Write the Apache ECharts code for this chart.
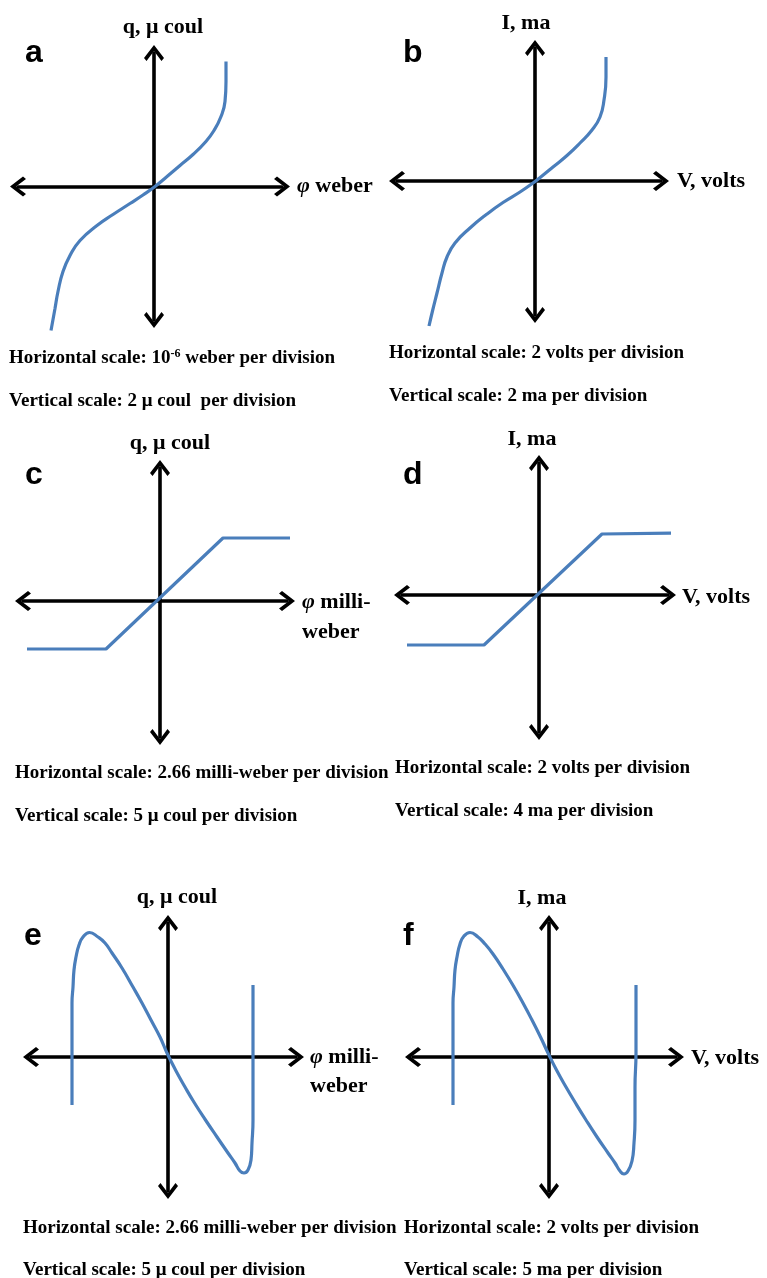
<!DOCTYPE html>
<html>
<head>
<meta charset="utf-8">
<script src="https://cdn.jsdelivr.net/npm/echarts@6/dist/echarts.min.js"></script>
<style>
html, body { margin: 0; padding: 0; background: #fff; }
#main { width: 767px; height: 1278px; }
</style>
</head>
<body>
<div id="main"></div>
<script>
// curve points, 1 unit = 10 px, origin at the axis crossing
var curveA = [[-10.3,-14.4],[-9.9,-12.2],[-9.6,-10.5],[-9.1,-8.5],[-8.4,-6.9],[-7.4,-5.4],[-5.7,-3.9],[-4.1,-2.8],[-2.4,-1.7],[-1.1,-0.85],[0.1,0],[1.3,1.0],[2.6,2.1],[3.9,3.2],[5.1,4.4],[6.0,5.6],[6.7,7.0],[7.1,8.5],[7.2,10.5],[7.2,12.5]];
var curveB = [[-10.6,-14.5],[-10.25,-13.0],[-9.8,-11.2],[-9.3,-9.2],[-8.8,-7.6],[-8.0,-6.2],[-6.5,-4.7],[-4.8,-3.3],[-3.2,-2.15],[-1.5,-1.1],[-0.2,-0.2],[0.7,0.5],[1.8,1.4],[3.2,2.55],[4.5,3.8],[5.7,5.1],[6.5,6.4],[6.9,8.1],[7.1,10.4],[7.1,12.4]];
var curveC = [[-13.3,-4.8],[-5.4,-4.8],[6.3,6.3],[13.4,6.3]];
var curveD = [[-13.2,-5.0],[-5.5,-5.0],[6.3,6.1],[13.4,6.2]];
var curveE = [[-9.6,-4.8],[-9.6,-3.0],[-9.6,-1.3],[-9.6,0.4],[-9.6,2.0],[-9.6,3.7],[-9.6,5.4],[-9.5,7.0],[-9.4,8.7],[-9.2,10.0],[-8.9,11.2],[-8.5,12.0],[-7.85,12.45],[-7.0,12.0],[-6.3,11.4],[-5.6,10.4],[-4.6,8.9],[-3.5,7.0],[-2.6,5.4],[-1.7,3.7],[-0.8,2.0],[-0.1,0.4],[0.75,-1.3],[1.7,-3.0],[2.65,-4.6],[3.75,-6.3],[4.9,-8.0],[6.0,-9.6],[6.7,-10.6],[7.2,-11.4],[7.6,-11.6],[8.0,-11.3],[8.3,-10.3],[8.4,-8.6],[8.5,-6.3],[8.5,-3.0],[8.5,0.4],[8.5,3.7],[8.5,7.2]];
var curveF = [[-9.6,-4.8],[-9.6,-3.0],[-9.6,-1.3],[-9.6,0.4],[-9.6,2.0],[-9.6,3.7],[-9.6,5.4],[-9.5,7.0],[-9.4,8.7],[-9.2,10.0],[-8.9,11.3],[-8.5,12.1],[-7.9,12.45],[-7.1,12.0],[-6.4,11.3],[-5.6,10.3],[-4.6,8.8],[-3.5,7.0],[-2.6,5.4],[-1.7,3.7],[-0.85,2.0],[-0.1,0.4],[0.75,-1.3],[1.7,-3.0],[2.65,-4.6],[3.7,-6.3],[4.8,-8.0],[5.9,-9.6],[6.6,-10.6],[7.1,-11.4],[7.5,-11.7],[7.9,-11.4],[8.3,-10.4],[8.5,-8.6],[8.6,-6.3],[8.6,-3.0],[8.7,0.4],[8.7,3.7],[8.7,7.2]];
var curves = [curveA, curveB, curveC, curveD, curveE, curveF];
var smoothed = [true, true, false, false, true, true];

var panelLetters = ['a', 'b', 'c', 'd', 'e', 'f'];
var yNames = ['q, μ coul', 'I, ma', 'q, μ coul', 'I, ma', 'q, μ coul', 'I, ma'];
var xNames = ['{i|φ} weber', 'V, volts', '{i|φ} milli-\nweber', 'V, volts', '{i|φ} milli-\nweber', 'V, volts'];
var hScales = ['Horizontal scale: 10{sup|-6} weber per division', 'Horizontal scale: 2 volts per division',
    'Horizontal scale: 2.66 milli-weber per division', 'Horizontal scale: 2 volts per division',
    'Horizontal scale: 2.66 milli-weber per division', 'Horizontal scale: 2 volts per division'];
var vScales = ['Vertical scale: 2 μ coul  per division', 'Vertical scale: 2 ma per division',
    'Vertical scale: 5 μ coul per division', 'Vertical scale: 4 ma per division',
    'Vertical scale: 5 μ coul per division', 'Vertical scale: 5 ma per division'];

// layout: axis crossing, arrow tips, label anchors (px)
var layout = [
    {ox:154, oy:186.5, l:10,  r:290, t:45,  b:328,  letter:[25,53],   yn:[163,27],  xn:[297,186],    sx:9,   sy:[358.5,401.5]},
    {ox:535, oy:181,   l:389, r:669, t:40,  b:323,  letter:[403,53],  yn:[526,23],  xn:[677,181],    sx:389, sy:[353.5,396.5]},
    {ox:160, oy:601,   l:15,  r:295, t:460, b:745,  letter:[25,475],  yn:[170,443], xn:[302,617.5],  sx:15,  sy:[773.5,816.5]},
    {ox:539, oy:595,   l:394, r:676, t:455, b:740,  letter:[403,475], yn:[532,439], xn:[682,597],    sx:395, sy:[768.5,811.5]},
    {ox:168, oy:1057,  l:23,  r:304, t:915, b:1199, letter:[24,936],  yn:[177,897], xn:[310,1072],   sx:23,  sy:[1228.5,1270.5]},
    {ox:549, oy:1057,  l:405, r:684, t:915, b:1199, letter:[403,936], yn:[542,898], xn:[691,1058],   sx:404, sy:[1228.5,1270.5]}
];

var chevron = 'path://M10,0L20,13L17.5,16L10,6L2.5,16L0,13Z';
var tip = 8;
var serif = '"Liberation Serif", "Times New Roman", serif';

var grids = [], xAxes = [], yAxes = [], series = [], texts = [];

layout.forEach(function (p, i) {
    var gl = p.l + tip, gr = p.r - tip, gt = p.t + tip, gb = p.b - tip;
    grids.push({left: gl, top: gt, width: gr - gl, height: gb - gt, outerBoundsMode: 'none'});
    var axisLine = {
        show: true, onZero: true,
        symbol: [chevron, chevron], symbolSize: [20, 16],
        lineStyle: {color: '#000', width: 3.6}
    };
    xAxes.push({
        type: 'value', gridIndex: i,
        min: (gl - p.ox) / 10, max: (gr - p.ox) / 10,
        axisLine: axisLine, axisTick: {show: false}, axisLabel: {show: false}, splitLine: {show: false}
    });
    yAxes.push({
        type: 'value', gridIndex: i,
        min: (p.oy - gb) / 10, max: (p.oy - gt) / 10,
        axisLine: axisLine, axisTick: {show: false}, axisLabel: {show: false}, splitLine: {show: false}
    });
    series.push({
        type: 'line', xAxisIndex: i, yAxisIndex: i,
        data: curves[i], smooth: smoothed[i] ? 0.5 : false,
        showSymbol: false, clip: false, silent: true,
        lineStyle: {color: '#4A7EBB', width: 3.2}
    });

    texts.push({
        type: 'text', x: p.letter[0], y: p.letter[1],
        style: {text: panelLetters[i], fontFamily: '"Liberation Sans", Arial, sans-serif', fontWeight: 'bold',
            fontSize: 32, fill: '#000', align: 'left', verticalAlign: 'middle'}
    });
    texts.push({
        type: 'text', x: p.yn[0], y: p.yn[1],
        style: {text: yNames[i], fontFamily: serif, fontWeight: 'bold', fontSize: 22, fill: '#000',
            align: 'center', verticalAlign: 'middle'}
    });
    texts.push({
        type: 'text', x: p.xn[0], y: p.xn[1],
        style: {text: xNames[i], fontFamily: serif, fontWeight: 'bold', fontSize: 22, lineHeight: 29.5, fill: '#000',
            align: 'left', verticalAlign: 'middle',
            rich: {i: {fontFamily: serif, fontWeight: 'bold', fontStyle: 'italic', fontSize: 22, lineHeight: 29.5, fill: '#000'}}}
    });
    [hScales[i], vScales[i]].forEach(function (s, k) {
        texts.push({
            type: 'text', x: p.sx, y: p.sy[k],
            style: {text: s, fontFamily: serif, fontWeight: 'bold', fontSize: 19, lineHeight: 22, fill: '#000',
                align: 'left', verticalAlign: 'middle',
                rich: {sup: {fontFamily: serif, fontWeight: 'bold', fontSize: 12, lineHeight: 12, verticalAlign: 'top', fill: '#000'}}}
        });
    });
});

var chart = echarts.init(document.getElementById('main'));
chart.setOption({
    animation: false,
    backgroundColor: '#fff',
    grid: grids,
    xAxis: xAxes,
    yAxis: yAxes,
    series: series,
    graphic: texts
});
</script>
</body>
</html>
